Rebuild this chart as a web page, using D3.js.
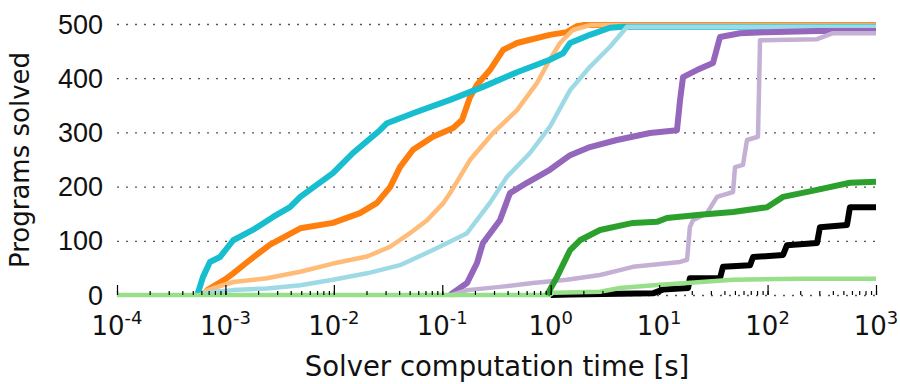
<!DOCTYPE html>
<html>
<head>
<meta charset="utf-8">
<script src="https://cdn.jsdelivr.net/npm/d3@7"></script>
<style>
body { margin: 0; background: #fff; }
svg { display: block; font-family: "DejaVu Sans", sans-serif; }
.grid line { stroke: #555; stroke-width: 1.3; stroke-dasharray: 2,7; }
.series { fill: none; stroke-linejoin: round; }
</style>
</head>
<body>
<svg id="chart" width="900" height="384"></svg>
<script>
// [time in s, programs solved]
var orange = [[6.2e-4,0],[6.8e-4,9],[1.03e-3,31],[1.18e-3,40],[1.69e-3,65],[2.58e-3,93],[4.9e-3,123],[9.8e-3,133],[0.0174,151],[0.025,170],[0.033,199],[0.0407,236],[0.0537,268],[0.082,292],[0.126,308],[0.152,323],[0.18,365],[0.209,388],[0.275,415],[0.363,452],[0.489,465],[0.98,480],[1.41,485],[1.75,496],[1.99,498],[1000,498]];
var orangeLight = [[5.8e-4,0],[6.8e-4,9],[1.18e-3,24],[2.41e-3,31],[4.9e-3,43],[9.8e-3,58],[0.0202,71],[0.033,89],[0.0504,114],[0.0723,138],[0.1016,169],[0.118,188],[0.18,249],[0.294,299],[0.489,341],[0.746,391],[0.98,434],[1.22,465],[1.6,489],[2.3,498],[1000,498]];
var cyan = [[5.5e-4,0],[6.2e-4,33],[7.2e-4,61],[8.9e-4,70],[1.18e-3,101],[1.79e-3,120],[2.75e-3,144],[3.94e-3,162],[4.9e-3,181],[9.8e-3,225],[0.015,262],[0.0266,304],[0.0309,317],[0.0585,338],[0.118,360],[0.237,384],[0.489,411],[0.98,434],[1.3,446],[1.51,465],[2.3,480],[3.52,493],[4.64,495],[1000,495]];
var cyanLight = [[5.8e-4,0],[7.2e-4,5],[1.18e-3,9],[2.41e-3,12],[4.9e-3,18],[9.8e-3,28],[0.0202,40],[0.0407,55],[0.082,83],[0.169,114],[0.275,170],[0.395,218],[0.644,262],[0.98,310],[1.51,378],[2.3,421],[3.52,458],[5.06,495],[1000,495]];
var purple = [[0.118,0],[0.169,22],[0.209,59],[0.237,96],[0.34,138],[0.421,188],[0.604,207],[0.98,231],[1.51,258],[2.3,273],[4.08,286],[8.24,299],[14.6,304],[15.6,360],[16.6,402],[22.3,415],[31.4,428],[36.4,476],[55.7,483],[98.9,485],[286,487],[1000,487]];
var purpleLight = [[0.123,0],[0.169,9],[0.34,15],[0.687,22],[1.41,28],[2.85,37],[4.35,46],[5.74,52],[15.6,61],[18.1,65],[19.2,125],[20.5,138],[27.6,151],[34.2,181],[48,190],[50.1,236],[59.3,240],[64.6,286],[81.6,292],[85.2,470],[286,472],[401,483],[1000,483]];
var green = [[0.925,0],[1.14,33],[1.51,83],[1.86,101],[2.85,120],[5.74,133],[9.55,135],[11.8,142],[23.8,148],[48,153],[98.9,162],[139,181],[286,194],[575,207],[1000,209]];
var greenLight = [[1e-4,0],[0.98,0],[1.05,4],[2.85,6],[4.35,13],[10.2,19],[18.1,22],[48,28],[199,30],[1000,30]];
var black = [[1.0,0],[1.51,1],[8.77,3],[10.8,10],[18.5,13],[19.2,31],[36.4,31],[38.8,52],[68.9,55],[73.5,70],[139,74],[151,92],[286,96],[304,125],[540,129],[575,162],[1000,162]];

var series = [
	{data: orange, color: '#ff7f0e', width: 6},
	{data: orangeLight, color: '#ffbb78', width: 4.5},
	{data: cyan, color: '#17becf', width: 6},
	{data: cyanLight, color: '#9edae5', width: 4.5},
	{data: purple, color: '#9467bd', width: 6},
	{data: purpleLight, color: '#c5b0d5', width: 4.5},
	{data: black, color: '#000', width: 6},
	{data: greenLight, color: '#98df8a', width: 4.5},
	{data: green, color: '#2ca02c', width: 6}
];

var yTicks = [0, 100, 200, 300, 400, 500];
var xDecades = [-4, -3, -2, -1, 0, 1, 2, 3];

var svg = d3.select('#chart');
var x = d3.scaleLog().domain([1e-4, 1e3]).range([117, 876]);
var y = d3.scaleLinear().domain([0, 500]).range([295, 24]);

// dotted grid + y labels
var gy = svg.append('g')
	.attr('class', 'grid')
	.attr('transform', 'translate(117,0)')
	.call(d3.axisLeft(y).tickValues(yTicks).tickSize(-759).tickPadding(14));
gy.select('.domain').remove();
gy.selectAll('text')
	.attr('font-size', 27)
	.attr('fill', '#111')
	.attr('dy', '0.34em');

var line = d3.line()
	.x(function(d){ return x(d[0]) })
	.y(function(d){ return y(d[1]) });

svg.selectAll('.series')
	.data(series)
	.enter()
	.append('path')
	.attr('class', 'series')
	.attr('d', function(d){ return line(d.data) })
	.attr('stroke', function(d){ return d.color })
	.attr('stroke-width', function(d){ return d.width });

// inward x ticks, minor then major
var minor = svg.append('g')
	.attr('transform', 'translate(0,295)')
	.call(d3.axisBottom(x).tickSize(-4).tickFormat(''));
minor.select('.domain').remove();
minor.selectAll('line').attr('stroke', '#000').attr('stroke-width', 1.2);

var major = svg.append('g')
	.attr('transform', 'translate(0,295)')
	.call(d3.axisBottom(x).tickValues(xDecades.map(function(e){ return Math.pow(10, e) })).tickSize(-10).tickFormat(''));
major.select('.domain').remove();
major.selectAll('line').attr('stroke', '#000').attr('stroke-width', 1.2);

var lab = svg.append('g')
	.selectAll('text')
	.data(xDecades)
	.enter()
	.append('text')
	.attr('x', function(d){ return x(Math.pow(10, d)) })
	.attr('y', 335)
	.attr('text-anchor', 'middle')
	.attr('font-size', 26)
	.attr('fill', '#111');
lab.append('tspan').text('10');
lab.append('tspan')
	.attr('dy', -11)
	.attr('font-size', 18)
	.text(function(d){ return d; });

svg.append('text')
	.attr('x', 497)
	.attr('y', 376)
	.attr('text-anchor', 'middle')
	.attr('font-size', 27.5)
	.attr('fill', '#111')
	.text('Solver computation time [s]');

svg.append('text')
	.attr('transform', 'translate(29,160) rotate(-90)')
	.attr('text-anchor', 'middle')
	.attr('font-size', 26)
	.attr('fill', '#111')
	.text('Programs solved');
</script>
</body>
</html>
